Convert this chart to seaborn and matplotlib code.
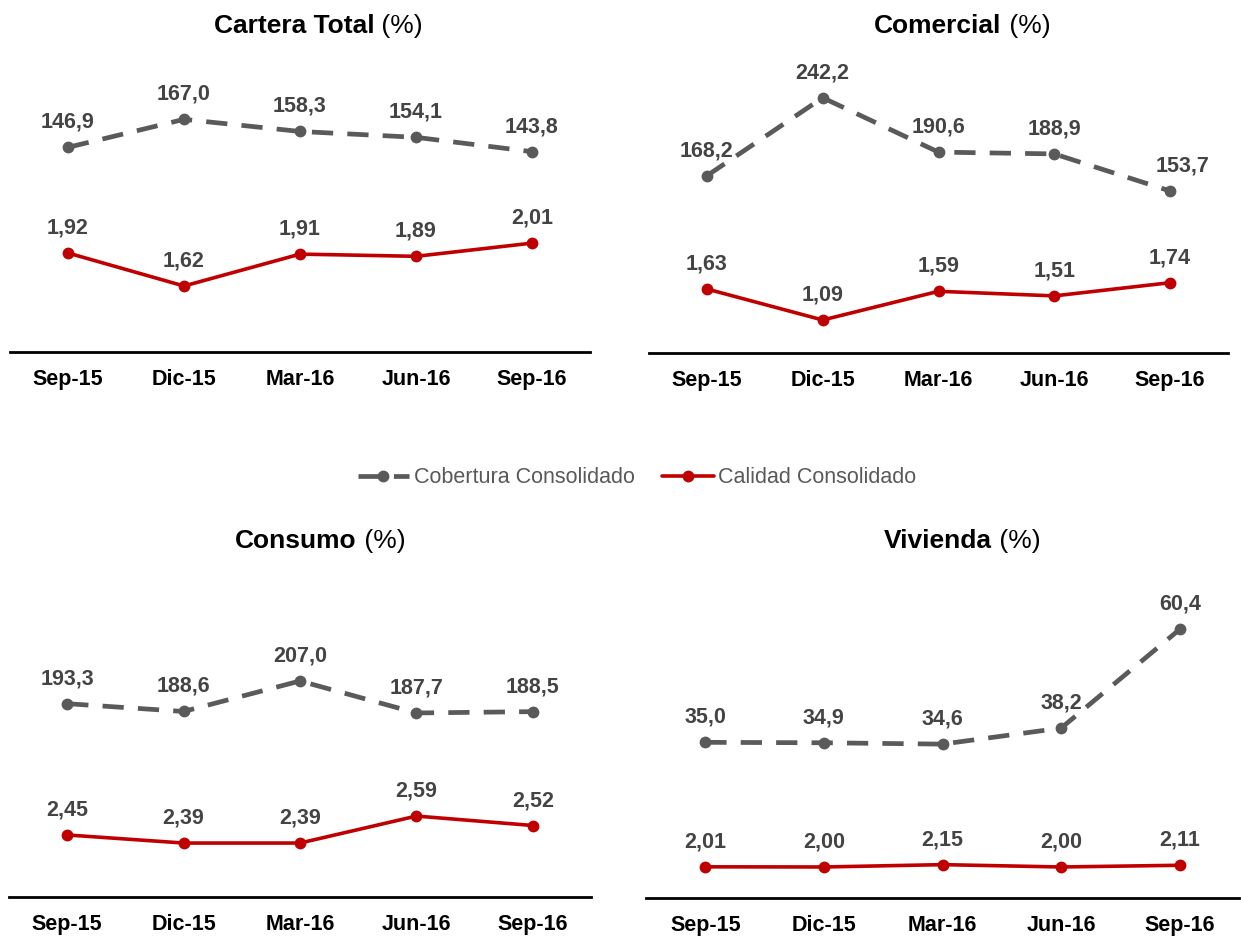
import matplotlib
matplotlib.use("Agg")
import matplotlib.pyplot as plt
import seaborn as sns
import pandas as pd

# ---- data -----------------------------------------------------------------
periods = ["Sep-15", "Dic-15", "Mar-16", "Jun-16", "Sep-16"]

cartera_cobertura = [146.9, 167.0, 158.3, 154.1, 143.8]
cartera_calidad = [1.92, 1.62, 1.91, 1.89, 2.01]

comercial_cobertura = [168.2, 242.2, 190.6, 188.9, 153.7]
comercial_calidad = [1.63, 1.09, 1.59, 1.51, 1.74]

consumo_cobertura = [193.3, 188.6, 207.0, 187.7, 188.5]
consumo_calidad = [2.45, 2.39, 2.39, 2.59, 2.52]

vivienda_cobertura = [35.0, 34.9, 34.6, 38.2, 60.4]
vivienda_calidad = [2.01, 2.00, 2.15, 2.00, 2.11]

titles = ["Cartera Total", "Comercial", "Consumo", "Vivienda"]
series_names = ["Cobertura Consolidado", "Calidad Consolidado"]

# ---- style ----------------------------------------------------------------
sns.set_style("white")
plt.rcParams["font.family"] = ["Liberation Sans", "DejaVu Sans"]

GRAY = "#5a5a5a"
RED = "#c00000"
LABEL = "#444444"

W, H = 1241, 936
fig = plt.figure(figsize=(W / 100, H / 100), dpi=100)
fig.patch.set_facecolor("white")


def box(left, right, top, bottom):
    """Axes rectangle from pixel edges."""
    return [left / W, 1 - bottom / H, (right - left) / W, (bottom - top) / H]


def fmt(v, dec):
    return f"{v:.{dec}f}".replace(".", ",")


panels = [
    (titles[0], cartera_cobertura, cartera_calidad, box(10, 590, 60, 352),
     (0, 209.6), (1.02, 3.675), 294, 38),
    (titles[1], comercial_cobertura, comercial_calidad, box(649, 1228, 60, 353),
     (0, 278), (0.515, 5.62), 938, 38),
    (titles[2], consumo_cobertura, consumo_calidad, box(9, 591, 580, 897),
     (76.7, 267.9), (1.99, 4.34), 296, 553),
    (titles[3], vivienda_cobertura, vivienda_calidad, box(646, 1239, 580, 898),
     (0, 71.5), (0, 20.5), 938, 553),
]

# horizontal nudges (points) for a few crowded value labels
label_dx = {(1, 4): 9}

legend_handles = None
for p_idx, (name, cob, cal, rect, ylim_cob, ylim_cal, tx, ty) in enumerate(panels):
    df = pd.DataFrame({"Periodo": periods, "Cobertura": cob, "Calidad": cal})

    ax = fig.add_axes(rect)
    sns.lineplot(data=df, x="Periodo", y="Cobertura", ax=ax, sort=False,
                 errorbar=None, color=GRAY, linewidth=3.4,
                 linestyle=(0, (4.5, 3)), marker="o", markersize=8.5,
                 markeredgewidth=0, markerfacecolor=GRAY)
    ax2 = ax.twinx()
    sns.lineplot(data=df, x="Periodo", y="Calidad", ax=ax2, sort=False,
                 errorbar=None, color=RED, linewidth=2.6,
                 marker="o", markersize=8.5, markeredgewidth=0,
                 markerfacecolor=RED)

    ax.set_xlim(-0.5, len(periods) - 0.5)
    ax.set_ylim(*ylim_cob)
    ax2.set_ylim(*ylim_cal)

    for a in (ax, ax2):
        a.set_xlabel("")
        a.set_ylabel("")
        a.set_yticks([])
        a.set_facecolor("none")
        for s in a.spines.values():
            s.set_visible(False)
    ax.spines["bottom"].set_visible(True)
    ax.spines["bottom"].set_color("black")
    ax.spines["bottom"].set_linewidth(2.0)

    ax.tick_params(axis="x", length=0, pad=12, labelsize=15.5,
                   labelcolor="black")
    for lab in ax.get_xticklabels():
        lab.set_fontweight("bold")

    # value labels
    for i, (x, v) in enumerate(zip(periods, cob)):
        ax.annotate(fmt(v, 1), xy=(x, v), xytext=(label_dx.get((p_idx, i), 0), 18),
                    textcoords="offset points", ha="center", va="center",
                    fontsize=15.5, fontweight="bold", color=LABEL,
                    annotation_clip=False)
    for x, v in zip(periods, cal):
        ax2.annotate(fmt(v, 2), xy=(x, v), xytext=(0, 18),
                     textcoords="offset points", ha="center", va="center",
                     fontsize=15.5, fontweight="bold", color=LABEL,
                     annotation_clip=False)

    # title: bold name followed by a regular "(%)"
    tt = fig.text(tx / W, 1 - ty / H, name, ha="center", va="bottom",
                  fontsize=19, fontweight="bold", color="black")
    ax.annotate(" (%)", xy=(1, 0), xycoords=tt, ha="left", va="bottom",
                fontsize=19, color="black", annotation_clip=False)

    if legend_handles is None:
        legend_handles = [ax.lines[0], ax2.lines[0]]

fig.legend(legend_handles, series_names, loc="center",
           bbox_to_anchor=(637 / W, 1 - 478 / H), ncol=2, frameon=False,
           fontsize=15.5, handlelength=2.4, handletextpad=0.2,
           columnspacing=1.3, labelcolor="#595959")

fig.savefig("out.png", dpi=100, facecolor="white")
